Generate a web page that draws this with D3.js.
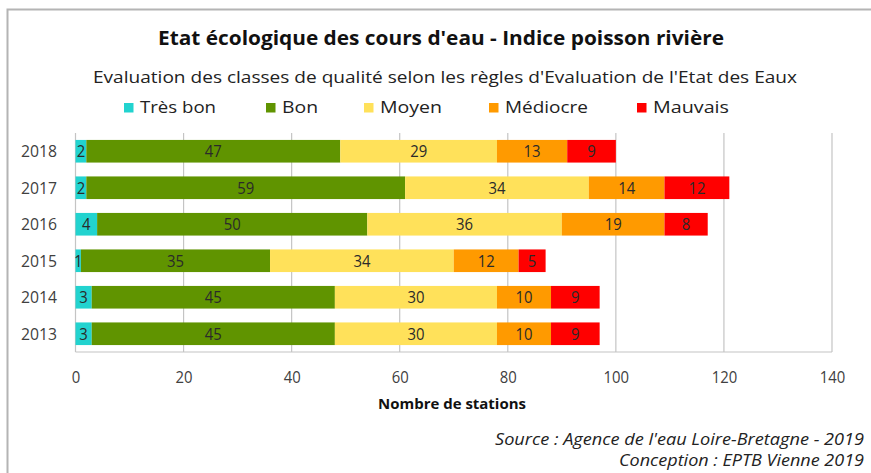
<!DOCTYPE html>
<html><head><meta charset="utf-8">
<script src="https://cdn.jsdelivr.net/npm/d3@7"></script>
<style>body{margin:0;background:#fff;} text{font-family:"Open Sans",sans-serif;}</style>
</head><body>
<svg id="c" width="871" height="473"></svg>
<script>
const years = ["2018","2017","2016","2015","2014","2013"];
const seriesNames = ["Très bon","Bon","Moyen","Médiocre","Mauvais"];
const tresBon  = [2,2,4,1,3,3];
const bon      = [47,59,50,35,45,45];
const moyen    = [29,34,36,34,30,30];
const mediocre = [13,14,19,12,10,10];
const mauvais  = [9,12,8,5,9,9];
const xTicks = [0,20,40,60,80,100,120,140];
const colors = ["#22d3cf","#609400","#ffe15a","#ff9a00","#ff0000"];

const svg = d3.select("#c");
const ff = "'Open Sans',sans-serif";

// frame
svg.append("path").attr("d","M7.5,473 V9.5 H871").attr("fill","none").attr("stroke","#b4b4b4").attr("stroke-width",2);

const rows = years.map((y,i)=>({year:y, values:[tresBon[i],bon[i],moyen[i],mediocre[i],mauvais[i]]}));
const x = d3.scaleLinear().domain([0,140]).range([75.5,832]);
const y = d3.scaleBand().domain(years).range([133,352]).paddingInner(0.38).paddingOuter(0.19);

// gridlines
svg.append("g").selectAll("line").data(xTicks).join("line")
  .attr("x1",d=>x(d)).attr("x2",d=>x(d)).attr("y1",133).attr("y2",352)
  .attr("stroke","#c4c4c4").attr("stroke-width",1.2);
svg.append("line").attr("x1",x(0)).attr("x2",x(140)).attr("y1",352).attr("y2",352).attr("stroke","#c4c4c4").attr("stroke-width",1.2);

// bars
rows.forEach(r=>{
  let acc=0;
  r.values.forEach((v,k)=>{
    const x0=acc; acc+=v;
    svg.append("rect").attr("x",x(x0)).attr("y",y(r.year)).attr("width",x(acc)-x(x0)).attr("height",y.bandwidth()).attr("fill",colors[k]);
    const t = svg.append("text").attr("x",(x(x0)+x(acc))/2).attr("y",y(r.year)+y.bandwidth()/2+6)
      .attr("text-anchor","middle").attr("font-size",16).attr("fill","#2a2a2a").text(v);
    if (String(v).length===2) t.attr("textLength",17).attr("lengthAdjust","spacingAndGlyphs");
    else t.attr("textLength",8.5).attr("lengthAdjust","spacingAndGlyphs");
  });
});

// y axis labels
svg.append("g").selectAll("text").data(years).join("text")
  .attr("x",57).attr("y",d=>y(d)+y.bandwidth()/2+6).attr("text-anchor","end")
  .attr("font-size",16).attr("fill","#404040").attr("textLength",36).attr("lengthAdjust","spacingAndGlyphs").text(d=>d);

// x axis
const xAxis = d3.axisBottom(x).tickValues(xTicks).tickSize(0).tickPadding(0);
const gx = svg.append("g").attr("transform","translate(0,383)").call(xAxis);
gx.select(".domain").remove();
gx.selectAll("text").attr("font-size",16).attr("fill","#404040").attr("font-family",ff).attr("dy",0)
  .attr("textLength",d=>String(d).length*8.5).attr("lengthAdjust","spacingAndGlyphs");

svg.append("text").attr("x",452).attr("y",409).attr("text-anchor","middle").attr("font-size",14).attr("font-weight","bold").attr("fill","#111")
  .attr("textLength",148).attr("lengthAdjust","spacingAndGlyphs").text("Nombre de stations");

// titles
svg.append("text").attr("x",441).attr("y",45).attr("text-anchor","middle").attr("font-size",20).attr("font-weight","bold").attr("fill","#111")
  .attr("textLength",566).attr("lengthAdjust","spacingAndGlyphs").text("Etat écologique des cours d'eau - Indice poisson rivière");
svg.append("text").attr("x",445).attr("y",83).attr("text-anchor","middle").attr("font-size",17).attr("fill","#222").attr("textLength",704).attr("lengthAdjust","spacingAndGlyphs").text("Evaluation des classes de qualité  selon les règles d'Evaluation de l'Etat des Eaux");

// legend
const legX = [124,266,364,489,637];
const legW = [76,36,62,83,76];
seriesNames.forEach((n,k)=>{
  svg.append("rect").attr("x",legX[k]).attr("y",103).attr("width",9.5).attr("height",9.5).attr("fill",colors[k]);
  svg.append("text").attr("x",legX[k]+16).attr("y",112.5).attr("font-size",17).attr("fill","#222")
    .attr("textLength",legW[k]).attr("lengthAdjust","spacingAndGlyphs").text(n);
});

// source
svg.append("text").attr("x",864).attr("y",445).attr("text-anchor","end").attr("font-size",16).attr("font-style","italic").attr("fill","#222")
  .attr("textLength",369).attr("lengthAdjust","spacingAndGlyphs").text("Source : Agence de l'eau Loire-Bretagne - 2019");
svg.append("text").attr("x",864).attr("y",466).attr("text-anchor","end").attr("font-size",16).attr("font-style","italic").attr("fill","#222")
  .attr("textLength",245).attr("lengthAdjust","spacingAndGlyphs").text("Conception  : EPTB Vienne 2019");
</script>
</body></html>
